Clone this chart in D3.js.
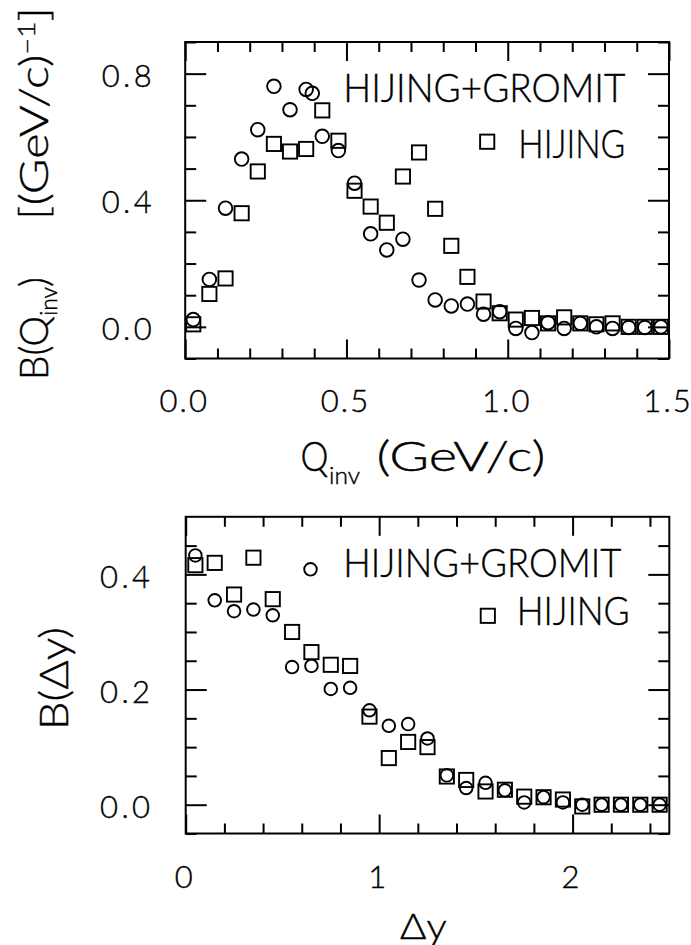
<!DOCTYPE html>
<html>
<head>
<meta charset="utf-8">
<script src="https://cdn.jsdelivr.net/npm/d3@7"></script>
<style>
  body { margin: 0; background: #fff; }
  svg { display: block; }
  text { font-family: Lato, "Liberation Sans", sans-serif; font-weight: 300; fill: #000;
         stroke: #000; stroke-width: 0.4px; }
</style>
</head>
<body>
<svg id="chart" width="691" height="945"></svg>
<script>
// ---------- Balance function vs Q_inv ----------
const qinvBins = [0.025, 0.075, 0.125, 0.175, 0.225, 0.275, 0.325, 0.375, 0.425, 0.475,
                  0.525, 0.575, 0.625, 0.675, 0.725, 0.775, 0.825, 0.875, 0.925, 0.975,
                  1.025, 1.075, 1.125, 1.175, 1.225, 1.275, 1.325, 1.375, 1.425, 1.475];
const qinvGromit = [0.023, 0.150, 0.375, 0.530, 0.623, 0.760, 0.686, 0.750, 0.602, 0.557,
                    0.454, 0.294, 0.243, 0.277, 0.148, 0.085, 0.066, 0.072, 0.040, 0.048,
                    -0.005, -0.018, 0.013, -0.005, 0.011, 0.000, -0.005, -0.002, -0.002, 0.000];
const qinvHijing = [0.008, 0.104, 0.153, 0.359, 0.491, 0.578, 0.554, 0.562, 0.684, 0.588,
                    0.430, 0.380, 0.329, 0.475, 0.551, 0.373, 0.256, 0.158, 0.080, 0.043,
                    0.023, 0.028, 0.011, 0.030, 0.011, 0.008, 0.011, 0.000, 0.000, 0.000];
const qinvTicks = [0, 0.5, 1.0, 1.5];
const qinvTickLabels = ["0.0", "0.5", "1.0", "1.5"];
const bqTicks = [0, 0.4, 0.8];
const bqTickLabels = ["0.0", "0.4", "0.8"];

// ---------- Balance function vs Delta y ----------
const dyBins = [0.05, 0.15, 0.25, 0.35, 0.45, 0.55, 0.65, 0.75, 0.85, 0.95,
                1.05, 1.15, 1.25, 1.35, 1.45, 1.55, 1.65, 1.75, 1.85, 1.95,
                2.05, 2.15, 2.25, 2.35, 2.45];
const dyGromit = [0.433, 0.355, 0.336, 0.339, 0.329, 0.239, 0.241, 0.201, 0.203, 0.164,
                  0.137, 0.140, 0.115, 0.051, 0.029, 0.038, 0.025, 0.004, 0.013, 0.004,
                  0.000, 0.000, 0.000, 0.000, 0.000];
const dyHijing = [0.416, 0.420, 0.365, 0.429, 0.357, 0.300, 0.265, 0.243, 0.241, 0.153,
                  0.081, 0.109, 0.100, 0.049, 0.043, 0.023, 0.026, 0.014, 0.013, 0.009,
                  -0.003, 0.000, 0.000, 0.000, 0.000];
const dyTicks = [0, 1, 2];
const dyTickLabels = ["0", "1", "2"];
const bdyTicks = [0, 0.2, 0.4];
const bdyTickLabels = ["0.0", "0.2", "0.4"];

const seriesNames = ["HIJING+GROMIT", "HIJING"];

const svg = d3.select("#chart");
svg.append("rect").attr("width", 691).attr("height", 945).attr("fill", "#fff");

function fit(sel, len, glyphs) {
  sel.attr("textLength", len).attr("lengthAdjust", glyphs ? "spacingAndGlyphs" : "spacing");
  return sel;
}

function drawPanel(cfg) {
  const g = svg.append("g");
  const x = d3.scaleLinear().domain(cfg.xDomain).range([cfg.left, cfg.right]);
  const y = d3.scaleLinear().domain(cfg.yDomain).range([cfg.bottom, cfg.top]);

  const addAxis = (fn, scale, vals, size, tr, labels, pad) => {
    const a = fn(scale).tickValues(vals).tickSizeInner(size).tickSizeOuter(0)
      .tickPadding(pad || 0)
      .tickFormat(labels ? ((d, i) => labels[i]) : () => "");
    const ag = g.append("g").attr("transform", tr).call(a);
    ag.select(".domain").remove();
    ag.selectAll(".tick line").attr("stroke", "#000").attr("stroke-width", 2);
    ag.attr("font-size", null).attr("font-family", null);
    return ag;
  };

  // minor ticks on all four sides
  addAxis(d3.axisBottom, x, cfg.xMinor, -10, `translate(0,${cfg.bottom})`);
  addAxis(d3.axisTop, x, cfg.xMinor, -10, `translate(0,${cfg.top})`);
  addAxis(d3.axisLeft, y, cfg.yMinor, -11, `translate(${cfg.left},0)`);
  addAxis(d3.axisRight, y, cfg.yMinor, -11, `translate(${cfg.right},0)`);

  // major ticks with labels
  const xb = addAxis(d3.axisBottom, x, cfg.xTicks, -19, `translate(0,${cfg.bottom})`, cfg.xLabels, cfg.xPad);
  xb.selectAll("text").attr("font-size", 31).attr("dy", null)
    .attr("y", cfg.xLabelBase).attr("x", -2.5)
    .each(function() {
      const t = d3.select(this);
      const w = this.getComputedTextLength();
      fit(t, w * 1.1);
    });
  addAxis(d3.axisTop, x, cfg.xTicks, -19, `translate(0,${cfg.top})`);
  const yl = addAxis(d3.axisLeft, y, cfg.yTicks, -21, `translate(${cfg.left},0)`, cfg.yLabels, cfg.yPad);
  yl.selectAll("text").attr("font-size", 31).attr("dy", "0.41em");
  yl.selectAll("text").each(function() { fit(d3.select(this), 50); });
  addAxis(d3.axisRight, y, cfg.yTicks, -21, `translate(${cfg.right},0)`);

  // frame
  g.append("rect")
    .attr("x", cfg.left).attr("y", cfg.top)
    .attr("width", cfg.right - cfg.left).attr("height", cfg.bottom - cfg.top)
    .attr("fill", "none").attr("stroke", "#000").attr("stroke-width", 2);

  // HIJING: open squares
  const s = cfg.square;
  g.append("g").selectAll("rect")
    .data(d3.zip(cfg.xs, cfg.hijing))
    .join("rect")
    .attr("x", d => x(d[0]) - s / 2).attr("y", d => y(d[1]) - s / 2)
    .attr("width", s).attr("height", s)
    .attr("fill", "none").attr("stroke", "#000").attr("stroke-width", 1.9);

  // HIJING+GROMIT: open circles
  g.append("g").selectAll("circle")
    .data(d3.zip(cfg.xs, cfg.gromit))
    .join("circle")
    .attr("cx", d => x(d[0])).attr("cy", d => y(d[1]))
    .attr("r", cfg.radius)
    .attr("fill", "none").attr("stroke", "#000").attr("stroke-width", 1.9);

  // legend
  const L = cfg.legend;
  g.append("circle").attr("cx", L.cx).attr("cy", L.cy).attr("r", cfg.radius)
    .attr("fill", "none").attr("stroke", "#000").attr("stroke-width", 1.9);
  fit(g.append("text").attr("x", L.t1x).attr("y", L.t1y).attr("font-size", 39)
    .text(seriesNames[0]), L.t1w, true);
  g.append("rect").attr("x", L.sx - s / 2).attr("y", L.sy - s / 2)
    .attr("width", s).attr("height", s)
    .attr("fill", "none").attr("stroke", "#000").attr("stroke-width", 1.9);
  fit(g.append("text").attr("x", L.t2x).attr("y", L.t2y).attr("font-size", 39)
    .text(seriesNames[1]), L.t2w, true);

  return g;
}

// upper panel
const qPanel = drawPanel({
  xDomain: [0, 1.5], yDomain: [-0.1, 0.9],
  left: 185.2, right: 669, top: 42, bottom: 358.5,
  xTicks: qinvTicks, xLabels: qinvTickLabels, xPad: 0, xLabelBase: 53,
  xMinor: [0.1, 0.2, 0.3, 0.4, 0.6, 0.7, 0.8, 0.9, 1.1, 1.2, 1.3, 1.4],
  yTicks: bqTicks, yLabels: bqTickLabels, yPad: 33.5,
  yMinor: [-0.1, 0.1, 0.2, 0.3, 0.5, 0.6, 0.7, 0.9],
  xs: qinvBins, gromit: qinvGromit, hijing: qinvHijing,
  radius: 6.8, square: 14.2,
  legend: { cx: 312.3, cy: 93.3, t1x: 343.3, t1y: 101.7, t1w: 282,
            sx: 487.2, sy: 141.7, t2x: 518.3, t2y: 158.3, t2w: 107 }
});

// upper axis titles
fit(qPanel.append("text").attr("x", 300.4).attr("y", 471).attr("font-size", 41)
  .text("Q"), 28, true);
fit(qPanel.append("text").attr("x", 329).attr("y", 484).attr("font-size", 23)
  .text("inv"), 31, true);
fit(qPanel.append("text").attr("x", 376.5).attr("y", 471).attr("font-size", 41)
  .text("(GeV/c)"), 169, true);

const yt1 = qPanel.append("text").attr("transform", "translate(48,380) rotate(-90)").attr("font-size", 39);
yt1.append("tspan").text("B(Q");
yt1.append("tspan").attr("font-size", 23).attr("dy", 9).text("inv");
yt1.append("tspan").attr("dy", -9).text(")");
fit(yt1, 103, true);

const yt2 = qPanel.append("text").attr("transform", "translate(48,220) rotate(-90)").attr("font-size", 39);
yt2.append("tspan").text("[(GeV/c)");
yt2.append("tspan").attr("font-size", 23).attr("dy", -13).text("\u22121");
yt2.append("tspan").attr("dy", 13).text("]");
fit(yt2, 213, true);

// lower panel
const dyPanel = drawPanel({
  xDomain: [0, 2.5], yDomain: [-0.05, 0.5],
  left: 185.7, right: 669.3, top: 516.8, bottom: 833.5,
  xTicks: dyTicks, xLabels: dyTickLabels, xPad: 0, xLabelBase: 54.5,
  xMinor: [0.2, 0.4, 0.6, 0.8, 1.2, 1.4, 1.6, 1.8, 2.2, 2.4],
  yTicks: bdyTicks, yLabels: bdyTickLabels, yPad: 35.7,
  yMinor: [-0.05, 0.05, 0.1, 0.15, 0.25, 0.3, 0.35, 0.45],
  xs: dyBins, gromit: dyGromit, hijing: dyHijing,
  radius: 6.3, square: 14.2,
  legend: { cx: 310.5, cy: 569.3, t1x: 343.3, t1y: 576.7, t1w: 278,
            sx: 487.8, sy: 615.8, t2x: 516.7, t2y: 625, t2w: 113 }
});

fit(dyPanel.append("text").attr("x", 400).attr("y", 938.5).attr("font-size", 36)
  .text("\u0394y"), 46.7, true);
fit(dyPanel.append("text").attr("transform", "translate(68.3,730) rotate(-90)").attr("font-size", 39)
  .text("B(\u0394y)"), 103, true);
</script>
</body>
</html>
